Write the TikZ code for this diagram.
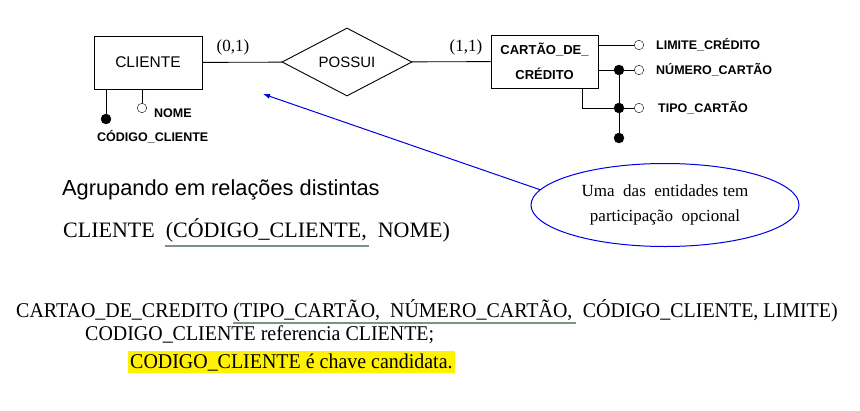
\documentclass[tikz,border=0pt]{standalone}
\usepackage{fontspec}
\setmainfont{Liberation Serif}
\setsansfont{Liberation Sans}
\newfontfamily\narrowserif[FakeStretch=0.95]{Liberation Serif}
\usetikzlibrary{shapes.geometric}
\usetikzlibrary{arrows.meta}
\tikzset{>=latex}
\colorlet{notecol}{blue!90!black}
\definecolor{keycol}{RGB}{128,145,128}
\tikzset{ent/.style={draw,line width=0.9pt,inner sep=0pt,font=\sffamily\fontsize{15.5}{18}\selectfont}}
\tikzset{rel/.style={diamond,draw,line width=0.9pt,inner sep=0pt,aspect=2,font=\sffamily\fontsize{15}{18}\selectfont}}
\tikzset{card/.style={inner sep=0pt,font=\fontsize{17}{18}\selectfont}}
\tikzset{attr/.style={inner sep=0pt,text height=9pt,text depth=0pt,font=\sffamily\bfseries\fontsize{12.5}{15}\selectfont}}
\tikzset{opn/.style={inner sep=0pt,circle,draw,fill=white,minimum size=9.5pt}}
\tikzset{fil/.style={inner sep=0pt,circle,draw,fill,minimum size=10pt}}
\tikzset{link/.style={line width=0.9pt}}
\tikzset{txt/.style={inner sep=0pt,anchor=base west}}
\tikzset{bigser/.style={txt,font=\narrowserif\fontsize{21}{24}\selectfont}}
\tikzset{note/.style={ellipse,draw=notecol,line width=1pt,align=center,minimum width=268pt,minimum height=83pt,font=\fontsize{17}{25}\selectfont}}
\tikzset{keyline/.style={draw=keycol,line width=2pt}}

\begin{document}
\begin{tikzpicture}[x=1pt,y=-1pt]
                \useasboundingbox (0,0) rectangle (860,410);

                \node[ent,minimum width=108pt,minimum height=53pt] (cliente) at (148,62.5) {CLIENTE};
                \node[rel,minimum width=130pt,minimum height=68pt] (possui) at (347,62) {POSSUI};
                \node[ent,align=center,font=\sffamily\bfseries\fontsize{13}{25}\selectfont,minimum width=107pt,minimum height=53pt] (cartao) at (544.5,61.5) {CARTÃO\_DE\_\\CRÉDITO};

                \draw[link] (cliente) -- (possui);
                \draw[link] (possui) -- (cartao);
                \node[card] (card1) at (233,47) {(0,1)};
                \node[card] (card2) at (466,47) {(1,1)};

                \node[fil] (codc) at (106,119) {};
                \node[opn] (nome) at (142,108) {};
                \draw[link] (codc |- cliente.south) -- (codc);
                \draw[link] (nome |- cliente.south) -- (nome);
                \node[attr,anchor=west] (nomel) at (154,113) {NOME};
                \node[attr,anchor=west] (codl) at (97,137) {CÓDIGO\_CLIENTE};

                \node[opn] (lim) at (639,45) {};
                \node[fil] (numf) at (619,70) {};
                \node[opn] (num) at (639,70) {};
                \node[fil] (tipf) at (619,108) {};
                \node[opn] (tip) at (639,108) {};
                \node[fil] (idf) at (619,138) {};
                \coordinate (tipc) at (582,108);

                \draw[link] (lim -| cartao.east) -- (lim);
                \draw[link] (numf -| cartao.east) -- (numf);
                \draw[link] (numf) -- (num);
                \draw[link] (tipc |- cartao.south) -- (tipc) -- (tipf);
                \draw[link] (tipf) -- (tip);
                \draw[link] (numf) -- (tipf);
                \draw[link] (tipf) -- (idf);
                \node[attr,anchor=west] (liml) at (656,45) {LIMITE\_CRÉDITO};
                \node[attr,anchor=west] (numl) at (656,70) {NÚMERO\_CARTÃO};
                \node[attr,anchor=west] (tipl) at (658,108) {TIPO\_CARTÃO};

                \node[note] (nota) at (665,205) {Uma\ \ das\ \ entidades tem\\participação\ \ opcional};
                \coordinate (alvo) at (263,94);
                \draw[notecol,line width=1pt,-{Latex[length=7pt,width=5pt]}] (nota.173) -- (alvo);

                \node[txt,font=\sffamily\fontsize{21.8}{24}\selectfont] (agrup) at (62,195) {Agrupando em relações distintas};
                \node[txt,font=\fontsize{22}{24}\selectfont] (relcli) at (63,237) {CLIENTE\ \ (CÓDIGO\_CLIENTE,\ \ NOME)};
                \draw[keyline] (165,246) -- (369,246);

                \node[bigser] (relcar) at (16,317) {CARTAO\_DE\_CREDITO};
                \node[bigser] (chave) at ([xshift=5pt]relcar.base east) {(TIPO\_CARTÃO,\ \ NÚMERO\_CARTÃO,};
                \node[bigser] (resto) at ([xshift=10pt]chave.base east) {CÓDIGO\_CLIENTE, LIMITE)};
                \draw[keyline] ([yshift=-6pt]chave.base west) -- ([yshift=-6pt,xshift=3pt]chave.base east);
                \node[bigser] (refcli) at (85,340) {CODIGO\_CLIENTE referencia CLIENTE;};
                \node[bigser,fill=yellow,inner xsep=2pt,text height=17pt,text depth=5pt] (cand) at (128,368) {CODIGO\_CLIENTE é chave candidata.};
            \end{tikzpicture}
\end{document}
